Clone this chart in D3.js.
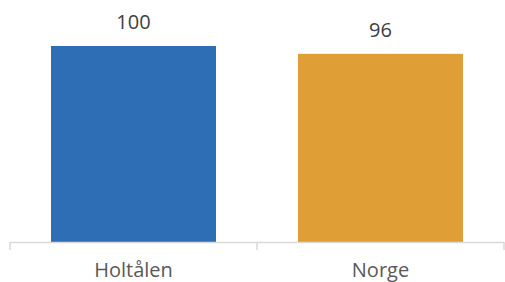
<!DOCTYPE html>
<meta charset="utf-8">
<style>
body { margin: 0; background: #fff; }
text { font-family: "Open Sans", sans-serif; }
.value { font-size: 20px; fill: #404040; }
.axis text { font-size: 20px; fill: #595959; }
.axis path, .axis line { stroke: #d9d9d9; stroke-width: 1.5px; }
</style>
<body>
<div id="chart"></div>
<script src="https://d3js.org/d3.v7.min.js"></script>
<script>
// data
var categories = ["Holtålen", "Norge"];
var values = [100, 96];
var colors = ["#2d6eb4", "#e09e36"];

var width = 505, height = 282;
var left = 10, right = 504, baseline = 242;

var svg = d3.select("#chart").append("svg")
    .attr("width", width)
    .attr("height", height);

var x = d3.scaleBand().domain(categories).range([left, right]).padding(0);
var y = d3.scaleLinear().domain([0, 100]).range([baseline, 46]);
var barW = x.bandwidth() * 0.668;

// bars
svg.selectAll("rect.bar")
  .data(values)
  .enter().append("rect")
    .attr("class", "bar")
    .attr("x", (d, i) => x(categories[i]) + (x.bandwidth() - barW) / 2)
    .attr("y", d => y(d))
    .attr("width", barW)
    .attr("height", d => baseline - y(d))
    .attr("fill", (d, i) => colors[i]);

// value labels
svg.selectAll("text.value")
  .data(values)
  .enter().append("text")
    .attr("class", "value")
    .attr("text-anchor", "middle")
    .attr("x", (d, i) => x(categories[i]) + x.bandwidth() / 2)
    .attr("y", d => y(d) - 17)
    .text(d => d);

// x axis with ticks between categories
var axis = svg.append("g")
    .attr("class", "axis")
    .attr("transform", "translate(0," + baseline + ")");

axis.append("line")
    .attr("x1", left).attr("x2", right)
    .attr("y1", 0.5).attr("y2", 0.5);

var bounds = [left].concat(categories.map(c => x(c) + x.bandwidth()));
axis.selectAll("line.tick")
  .data(bounds)
  .enter().append("line")
    .attr("class", "tick")
    .attr("x1", d => d).attr("x2", d => d)
    .attr("y1", 0).attr("y2", 8);

axis.selectAll("text")
  .data(categories)
  .enter().append("text")
    .attr("text-anchor", "middle")
    .attr("x", d => x(d) + x.bandwidth() / 2)
    .attr("y", 35)
    .text(d => d);
</script>
</body>
